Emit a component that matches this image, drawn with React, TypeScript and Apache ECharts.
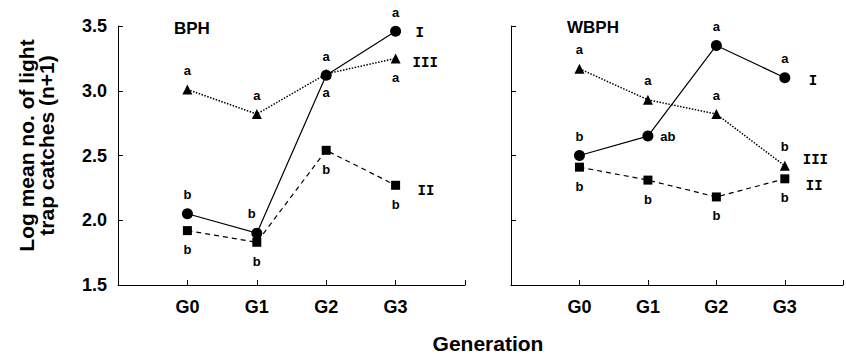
import React, { useEffect, useRef } from "react";
import * as echarts from "echarts";

const generations = ["G0", "G1", "G2", "G3"];
const yTicks = [1.5, 2.0, 2.5, 3.0, 3.5];

// BPH panel
const bphI = [2.05, 1.9, 3.12, 3.46];
const bphII = [1.92, 1.83, 2.54, 2.27];
const bphIII = [3.01, 2.82, 3.13, 3.25];
const bphILetters = ["b", "b", "a", "a"];
const bphIILetters = ["b", "b", "b", "b"];
const bphIIILetters = ["a", "a", "a", "a"];

// WBPH panel
const wbphI = [2.5, 2.65, 3.35, 3.1];
const wbphII = [2.41, 2.31, 2.18, 2.32];
const wbphIII = [3.17, 2.93, 2.82, 2.42];
const wbphILetters = ["b", "ab", "a", "a"];
const wbphIILetters = ["b", "b", "b", "b"];
const wbphIIILetters = ["a", "a", "a", "b"];

const groupNames = ["I", "II", "III"];

// annotation placement (style, not data)
const PLACE: Record<string, number[]> = {
  up: [0, -19],
  down: [0, 19],
  upLeft: [-5, -20],
  right: [20, 0],
};
const bphIPlace = ["up", "upLeft", "up", "up"];
const bphIIPlace = ["down", "down", "down", "down"];
const bphIIIPlace = ["up", "up", "down", "down"];
const wbphIPlace = ["up", "right", "up", "up"];
const wbphIIPlace = ["down", "down", "down", "down"];
const wbphIIIPlace = ["up", "up", "up", "up"];

const SANS = "'Liberation Sans', Arial, sans-serif";

function makeData(vals: number[], letters: string[], place: string[]) {
  return vals.map((v, i) => ({
    value: [i, v],
    label: {
      show: true,
      position: "inside",
      formatter: letters[i],
      offset: PLACE[place[i]],
      fontFamily: SANS,
      fontWeight: "bold",
      fontSize: 13,
      color: "#000",
    },
  }));
}

function makeSeries(
  idx: number,
  vals: number[],
  letters: string[],
  place: string[],
  symbol: string,
  symbolSize: number,
  lineType: any,
  lineWidth: number,
  endName: string,
  endDist: number,
  endDy: number
) {
  return {
    type: "line",
    xAxisIndex: idx,
    yAxisIndex: idx,
    data: makeData(vals, letters, place),
    symbol,
    symbolSize,
    showAllSymbol: true,
    itemStyle: { color: "#000" },
    lineStyle: { color: "#000", width: lineWidth, type: lineType },
    emphasis: { disabled: true },
    endLabel: {
      show: true,
      formatter: endName,
      distance: endDist,
      offset: [0, endDy],
      fontFamily: "'Liberation Mono', 'DejaVu Sans Mono', monospace",
      fontWeight: "bold",
      fontSize: 14,
      color: "#000",
    },
    z: symbol === "circle" ? 5 : 3,
  };
}

function xAxisDef(grid: number, max: number) {
  return {
    type: "value",
    gridIndex: grid,
    min: -1,
    max,
    interval: 1,
    axisLine: { show: true, onZero: false, lineStyle: { color: "#000", width: 1 } },
    axisTick: { show: true, inside: true, length: 5, lineStyle: { color: "#000" } },
    splitLine: { show: false },
    axisLabel: {
      show: true,
      margin: 13,
      fontFamily: SANS,
      fontWeight: "bold",
      fontSize: 18,
      color: "#000",
      showMinLabel: false,
      formatter: (v: number) =>
        Number.isInteger(v) && v >= 0 && v < generations.length ? generations[v] : "",
    },
  };
}

function yAxisDef(grid: number, showLabels: boolean) {
  return {
    type: "value",
    gridIndex: grid,
    min: yTicks[0],
    max: yTicks[yTicks.length - 1],
    interval: 0.5,
    axisLine: { show: true, onZero: false, lineStyle: { color: "#000", width: 1 } },
    axisTick: { show: true, inside: true, length: 5, lineStyle: { color: "#000" } },
    splitLine: { show: false },
    axisLabel: {
      show: showLabels,
      margin: 11,
      fontFamily: SANS,
      fontWeight: "bold",
      fontSize: 18,
      color: "#000",
      formatter: (v: number) => v.toFixed(1),
    },
    name: showLabels ? "Log mean no. of light\ntrap catches (n+1)" : "",
    nameLocation: "middle",
    nameRotate: 90,
    nameGap: 62,
    nameTextStyle: {
      fontFamily: SANS,
      fontWeight: "bold",
      fontSize: 21,
      lineHeight: 20,
      color: "#000",
      padding: [0, 0, 0, 20],
    },
  };
}

export default function App() {
  const ref = useRef<HTMLDivElement>(null);
  useEffect(() => {
    if (!ref.current) return;
    const chart = echarts.init(ref.current, null, { renderer: "svg" });
    chart.setOption({
      animation: false,
      backgroundColor: "#fff",
      grid: [
        { left: 118, top: 26, width: 347, height: 259 },
        { left: 511, top: 26, width: 335, height: 259 },
      ],
      title: [
        {
          text: "BPH",
          left: 169,
          top: 15,
          textStyle: { fontFamily: SANS, fontWeight: "bold", fontSize: 17, color: "#000" },
        },
        {
          text: "WBPH",
          left: 562,
          top: 14,
          textStyle: { fontFamily: SANS, fontWeight: "bold", fontSize: 17, color: "#000" },
        },
      ],
      xAxis: [xAxisDef(0, 4), xAxisDef(1, 3.85)],
      yAxis: [yAxisDef(0, true), yAxisDef(1, false)],
      graphic: [
        {
          type: "text",
          x: 488,
          y: 343,
          style: {
            text: "Generation",
            fontFamily: SANS,
            fontWeight: "bold",
            fontSize: 21,
            fill: "#000",
            textAlign: "center",
            textVerticalAlign: "middle",
          },
        },
      ],
      series: [
        makeSeries(0, bphIII, bphIIILetters, bphIIIPlace, "triangle", 10, "dotted", 1.5, groupNames[2], 17, 5),
        makeSeries(0, bphII, bphIILetters, bphIIPlace, "rect", 9, [5, 4], 1.2, groupNames[1], 22, 6),
        makeSeries(0, bphI, bphILetters, bphIPlace, "circle", 11, "solid", 1.2, groupNames[0], 20, 2),
        makeSeries(1, wbphIII, wbphIIILetters, wbphIIIPlace, "triangle", 10, "dotted", 1.5, groupNames[2], 18, -6),
        makeSeries(1, wbphII, wbphIILetters, wbphIIPlace, "rect", 9, [5, 4], 1.2, groupNames[1], 21, 7),
        makeSeries(1, wbphI, wbphILetters, wbphIPlace, "circle", 11, "solid", 1.2, groupNames[0], 24, 3),
      ],
    });
    return () => chart.dispose();
  }, []);
  return (
    <div
      ref={ref}
      style={{ position: "fixed", left: 0, top: 0, width: 846, height: 354 }}
    />
  );
}
